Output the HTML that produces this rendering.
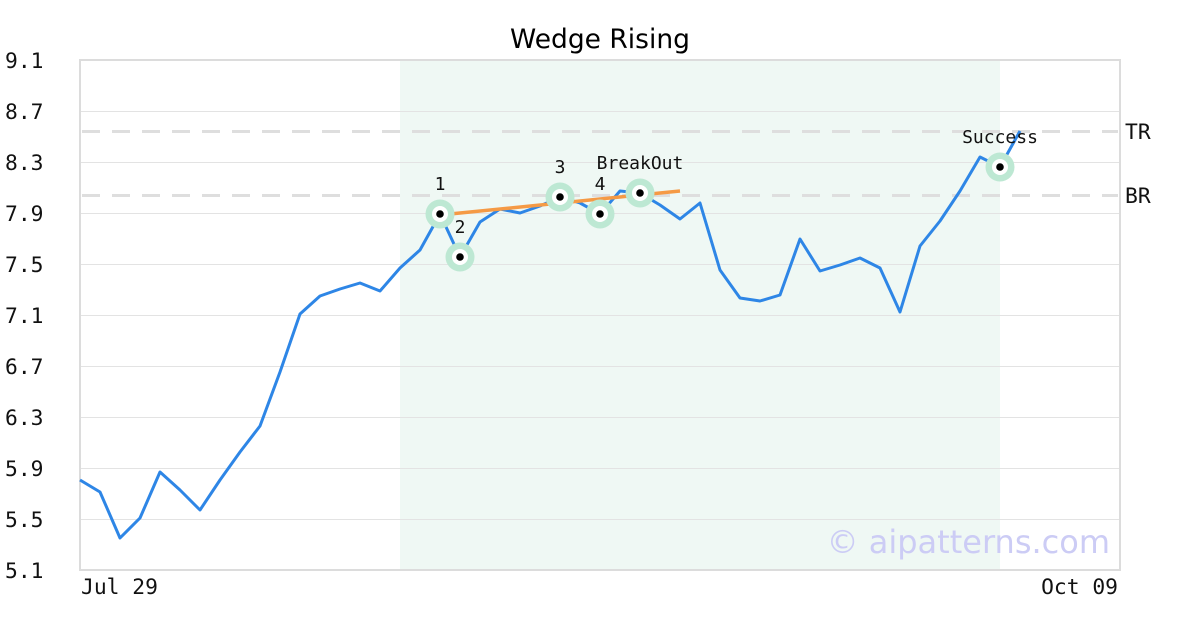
<!DOCTYPE html>
<html><head><meta charset="utf-8"><style>
html,body{margin:0;padding:0;background:#fff;width:1200px;height:630px;overflow:hidden}
text{font-family:"DejaVu Sans Mono","Liberation Mono",monospace}
</style></head><body>
<svg width="1200" height="630" xmlns="http://www.w3.org/2000/svg">
<rect width="1200" height="630" fill="#fff"/>
<rect x="400" y="60" width="600" height="510" fill="#eff8f4"/>
<g stroke="#e3e3e3" stroke-width="1">
<line x1="80" x2="1120" y1="111.5" y2="111.5"/>
<line x1="80" x2="1120" y1="162.5" y2="162.5"/>
<line x1="80" x2="1120" y1="213.5" y2="213.5"/>
<line x1="80" x2="1120" y1="264.5" y2="264.5"/>
<line x1="80" x2="1120" y1="315.5" y2="315.5"/>
<line x1="80" x2="1120" y1="366.5" y2="366.5"/>
<line x1="80" x2="1120" y1="417.5" y2="417.5"/>
<line x1="80" x2="1120" y1="468.5" y2="468.5"/>
<line x1="80" x2="1120" y1="519.5" y2="519.5"/>
</g>
<g stroke="#dedede" stroke-width="3" stroke-dasharray="18,12">
<line x1="82" x2="1118" y1="131.5" y2="131.5"/>
<line x1="82" x2="1118" y1="195.5" y2="195.5"/>
</g>
<rect x="80" y="60" width="1040" height="510" fill="none" stroke="#dcdcdc" stroke-width="2"/>
<text x="600" y="48" text-anchor="middle" font-size="26.5" style="font-family:'DejaVu Sans','Liberation Sans',sans-serif">Wedge Rising</text>
<g font-size="21.3" fill="#111">
<text x="5" y="68">9.1</text><text x="5" y="119">8.7</text><text x="5" y="170">8.3</text>
<text x="5" y="221">7.9</text><text x="5" y="272">7.5</text><text x="5" y="323">7.1</text>
<text x="5" y="374">6.7</text><text x="5" y="425">6.3</text><text x="5" y="476">5.9</text>
<text x="5" y="527">5.5</text><text x="5" y="578">5.1</text>
<text x="81" y="594">Jul 29</text><text x="1118" y="594" text-anchor="end">Oct 09</text>
<text x="1125" y="139">TR</text><text x="1125" y="203">BR</text>
</g>
<text x="1110" y="553" text-anchor="end" font-size="32" fill="#ccccf5" style="font-family:'DejaVu Sans','Liberation Sans',sans-serif">© aipatterns.com</text>
<polyline fill="none" stroke="#2e86e6" stroke-width="3" stroke-linejoin="round" points="80,480 100,492 120,538 140,518 160,472 180,490 200,510 220,480 240,452 260,426 280,372 300,314 320,296 340,289 360,283 380,291 400,268 420,250 440,214 460,257 480,222 500,209 520,213 540,206 560,197 580,203 600,214 620,191 640,193 660,205 680,219 700,203 720,270 740,298 760,301 780,295 800,239 820,271 840,265 860,258 880,268 900,312 920,246 940,221 960,191 980,157 1000,167 1020,131"/>
<line x1="440" y1="215" x2="680" y2="191" stroke="#f59a45" stroke-width="3.5"/>
<g>
<g fill="#bde8d3"><circle cx="440" cy="214" r="14.5"/><circle cx="460" cy="257" r="14.5"/><circle cx="560" cy="197" r="14.5"/><circle cx="600" cy="214" r="14.5"/><circle cx="640" cy="193" r="14.5"/><circle cx="1000" cy="167" r="14.5"/></g>
<g fill="#fff"><circle cx="440" cy="214" r="8"/><circle cx="460" cy="257" r="8"/><circle cx="560" cy="197" r="8"/><circle cx="600" cy="214" r="8"/><circle cx="640" cy="193" r="8"/><circle cx="1000" cy="167" r="8"/></g>
<g fill="#000"><circle cx="440" cy="214" r="3.8"/><circle cx="460" cy="257" r="3.8"/><circle cx="560" cy="197" r="3.8"/><circle cx="600" cy="214" r="3.8"/><circle cx="640" cy="193" r="3.8"/><circle cx="1000" cy="167" r="3.8"/></g>
</g>
<g font-size="18" fill="#111" text-anchor="middle">
<text x="440" y="190">1</text><text x="460" y="233">2</text><text x="560" y="173">3</text><text x="600" y="190">4</text>
<text x="640" y="169">BreakOut</text><text x="1000" y="143">Success</text>
</g>
</svg>
</body></html>
